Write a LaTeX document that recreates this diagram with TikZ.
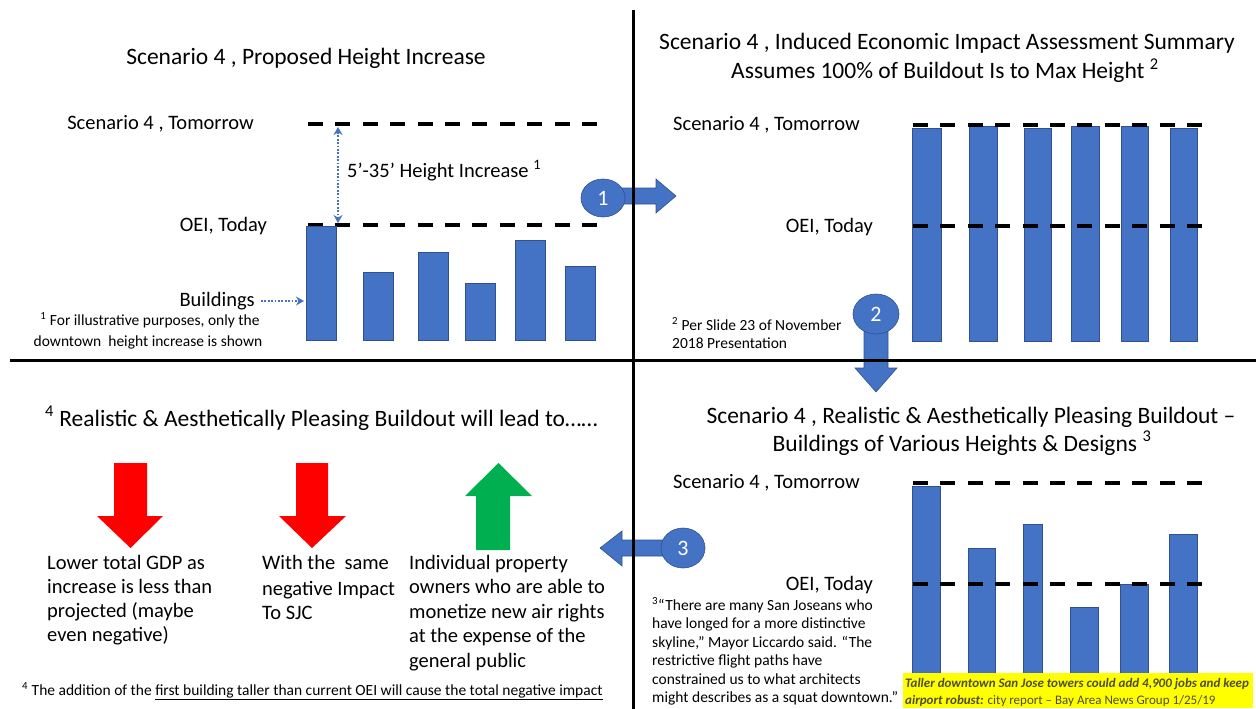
\documentclass[tikz,border=0pt]{standalone}
\usepackage{fontspec}
\setmainfont{Carlito}
\usetikzlibrary{arrows.meta,shapes.geometric}
\definecolor{obl}{HTML}{4472C4}
\definecolor{obd}{HTML}{2F528F}
\definecolor{ored}{HTML}{FF0000}
\definecolor{ogrn}{HTML}{00B050}
\definecolor{hl}{HTML}{FFFF00}
\definecolor{hltext}{HTML}{4D4D33}
\tikzset{
  lbl/.style={inner sep=0pt, font=\fontsize{20.5}{24}\selectfont},
  ttl/.style={inner sep=0pt, font=\fontsize{23.5}{28}\selectfont},
  small/.style={inner sep=0pt, font=\fontsize{15.5}{18}\selectfont},
  tiny/.style={inner sep=0pt, font=\fontsize{13}{15}\selectfont, text=hltext},
  dashln/.style={line width=3.5pt, dash pattern=on 15pt off 12.4pt},
  barbox/.style={fill=obl, draw=obd, line width=0.6pt},
  blockarr/.style={fill=obl, draw=obd, line width=0.6pt},
  numc/.style={ellipse, fill=obl, draw=obd, line width=0.6pt, inner sep=0pt,
     text=white, font=\fontsize{22}{26}\selectfont},
  dotarr/.style={draw=obl, line width=2.2pt, dash pattern=on 1.8pt off 1.6pt,
     {Stealth[length=8pt,width=9pt,fill=obl]}-{Stealth[length=8pt,width=9pt,fill=obl]}},
  dotarrone/.style={draw=obl, line width=2.2pt, dash pattern=on 1.8pt off 1.6pt,
     -{Stealth[length=8pt,width=9pt,fill=obl]}},
  divider/.style={line width=3pt, black}
}
\begin{document}
\begin{tikzpicture}[x=1pt,y=-1pt]
\useasboundingbox (0,0) rectangle (1256,709);

% ---------------- Top-left ----------------
\node[ttl, anchor=base] (tlT) at (306,65) {Scenario 4 , Proposed Height Increase};
\node[lbl, anchor=base east] (tlTom) at (254,129) {Scenario 4 , Tomorrow};
\node[lbl, anchor=base east] (tlOEI) at (267,231) {OEI, Today};
\draw[dashln] (308,124) -- (597,124);
\draw[dashln] (308,225) -- (597,225);
\fill[barbox] (306,226) rectangle (336,340);
\fill[barbox] (363,272) rectangle (393,340);
\fill[barbox] (418,252) rectangle (448,340);
\fill[barbox] (465,283) rectangle (495,340);
\fill[barbox] (515,240) rectangle (545,340);
\fill[barbox] (565,266) rectangle (595,340);
\coordinate (incTop) at (338,127);
\coordinate (incBot) at (338,223);
\draw[dotarr] (incTop) -- (incBot);
\node[lbl, anchor=base west] (incL) at (347,177) {5’-35’ Height Increase \textsuperscript{1}};
\node[lbl, anchor=base east] (bld) at (255,306) {Buildings};
\coordinate (bar1w) at (304,301);
\draw[dotarrone] (bld.east |- 0,301) ++(6,0) -- (bar1w);
\node[small, anchor=base] (fn1a) at (150,325) {\textsuperscript{1} For illustrative purposes, only the};
\node[small, anchor=base] (fn1b) at (148,346) {downtown\ \ height increase is shown};

% ---------------- Top-right ----------------
\node[ttl, anchor=base] (trT1) at (947,50) {Scenario 4 , Induced Economic Impact Assessment Summary};
\node[ttl, anchor=base] (trT2) at (945,79) {Assumes 100\% of Buildout Is to Max Height \textsuperscript{2}};
\node[lbl, anchor=base west] (trTom) at (673,130) {Scenario 4 , Tomorrow};
\node[lbl, anchor=base east] (trOEI) at (873,232) {OEI, Today};
\fill[barbox] (912,128) rectangle (941,341);
\fill[barbox] (969,126) rectangle (997,341);
\fill[barbox] (1024,128) rectangle (1051,341);
\fill[barbox] (1071,126) rectangle (1099,341);
\fill[barbox] (1121,126) rectangle (1148,341);
\fill[barbox] (1170,128) rectangle (1197,341);
\draw[dashln] (913,125) -- (1203,125);
\draw[dashln] (913,226) -- (1203,226);
\node[small, anchor=base west] (fn2a) at (672,330) {\textsuperscript{2} Per Slide 23 of November};
\node[small, anchor=base west] (fn2b) at (672,348) {2018 Presentation};

% ---------------- Bottom-right ----------------
\node[ttl, anchor=base] (brT1) at (971,423) {Scenario 4 , Realistic \& Aesthetically Pleasing Buildout –};
\node[ttl, anchor=base] (brT2) at (962,451) {Buildings of Various Heights \& Designs \textsuperscript{3}};
\node[lbl, anchor=base west] (brTom) at (673,488) {Scenario 4 , Tomorrow};
\node[lbl, anchor=base east] (brOEI) at (873,590) {OEI, Today};
\fill[barbox] (912,486) rectangle (940,674);
\fill[barbox] (968,548) rectangle (995,674);
\fill[barbox] (1023,524) rectangle (1042,674);
\fill[barbox] (1070,607) rectangle (1098,674);
\fill[barbox] (1120,584) rectangle (1148,674);
\fill[barbox] (1169,534) rectangle (1197,674);
\draw[dashln] (913,483) -- (1202,483);
\draw[dashln] (913,584) -- (1202,584);
\node[small, anchor=base west] (q1) at (652,610) {\textsuperscript{3}“There are many San Joseans who};
\node[small, anchor=base west] (q2) at (652,628.5) {have longed for a more distinctive};
\node[small, anchor=base west] (q3) at (652,647) {skyline,” Mayor Liccardo said. “The};
\node[small, anchor=base west] (q4) at (652,665.5) {restrictive flight paths have};
\node[small, anchor=base west] (q5) at (652,684) {constrained us to what architects};
\node[small, anchor=base west] (q6) at (652,702.5) {might describes as a squat downtown.”};
\fill[hl] (903,673) rectangle (1253,708);
\node[tiny, anchor=base west] (n1) at (905,687) {\textbf{\textit{Taller downtown San Jose towers could add 4,900 jobs and keep}}};
\node[tiny, anchor=base west] (n2) at (905,704) {\textbf{\textit{airport robust:}} city report – Bay Area News Group 1/25/19};

% ---------------- Bottom-left ----------------
\node[ttl, anchor=base west] (blT) at (45,426) {\textsuperscript{4} Realistic \& Aesthetically Pleasing Buildout will lead to……};
\fill[ored] (114,463) -- (147,463) -- (147,516) -- (163,516) -- (130.5,548) -- (97,516) -- (114,516) -- cycle;
\fill[ored] (296,463) -- (328,463) -- (328,516) -- (346,516) -- (312,548) -- (279,516) -- (296,516) -- cycle;
\fill[ogrn] (476,550) -- (510,550) -- (510,496) -- (532,496) -- (498.5,463) -- (465,496) -- (476,496) -- cycle;
\node[lbl, anchor=base west] (a1) at (47,569) {Lower total GDP as};
\node[lbl, anchor=base west] (a2) at (47,593) {increase is less than};
\node[lbl, anchor=base west] (a3) at (47,617) {projected (maybe};
\node[lbl, anchor=base west] (a4) at (47,641) {even negative)};
\node[lbl, anchor=base west] (b1) at (262,569) {With the\ \ same};
\node[lbl, anchor=base west] (b2) at (262,595) {negative Impact};
\node[lbl, anchor=base west] (b3) at (262,619) {To SJC};
\node[lbl, anchor=base west] (c1t) at (409,569) {Individual property};
\node[lbl, anchor=base west] (c2t) at (409,593) {owners who are able to};
\node[lbl, anchor=base west] (c3t) at (409,618) {monetize new air rights};
\node[lbl, anchor=base west] (c4t) at (409,642) {at the expense of the};
\node[lbl, anchor=base west] (c5t) at (409,667) {general public};
\node[small, anchor=base west] (fn4) at (22,695) {\textsuperscript{4} The addition of the \underline{first building taller than current OEI will cause the total negative impact}};

% ---------------- Numbered block arrows ----------------
\fill[blockarr] (615,188) -- (656,188) -- (656,179) -- (676,196) -- (656,213) -- (656,204) -- (615,204) -- cycle;
\node[numc, minimum width=44pt, minimum height=38pt] (c1) at (603,198) {1};
\fill[blockarr] (864,325) -- (888,325) -- (888,368) -- (897,368) -- (876,392) -- (855,368) -- (864,368) -- cycle;
\node[numc, minimum width=46pt, minimum height=40pt] (c2) at (876,314) {2};
\fill[blockarr] (670,540) -- (622,540) -- (622,531) -- (600,548) -- (622,566) -- (622,556) -- (670,556) -- cycle;
\node[numc, minimum width=44pt, minimum height=40pt] (c3) at (683,548) {3};

% ---------------- Dividers ----------------
\draw[divider] (633,10) -- (633,709);
\draw[divider] (10,360) -- (1256,360);
\end{tikzpicture}
\end{document}
